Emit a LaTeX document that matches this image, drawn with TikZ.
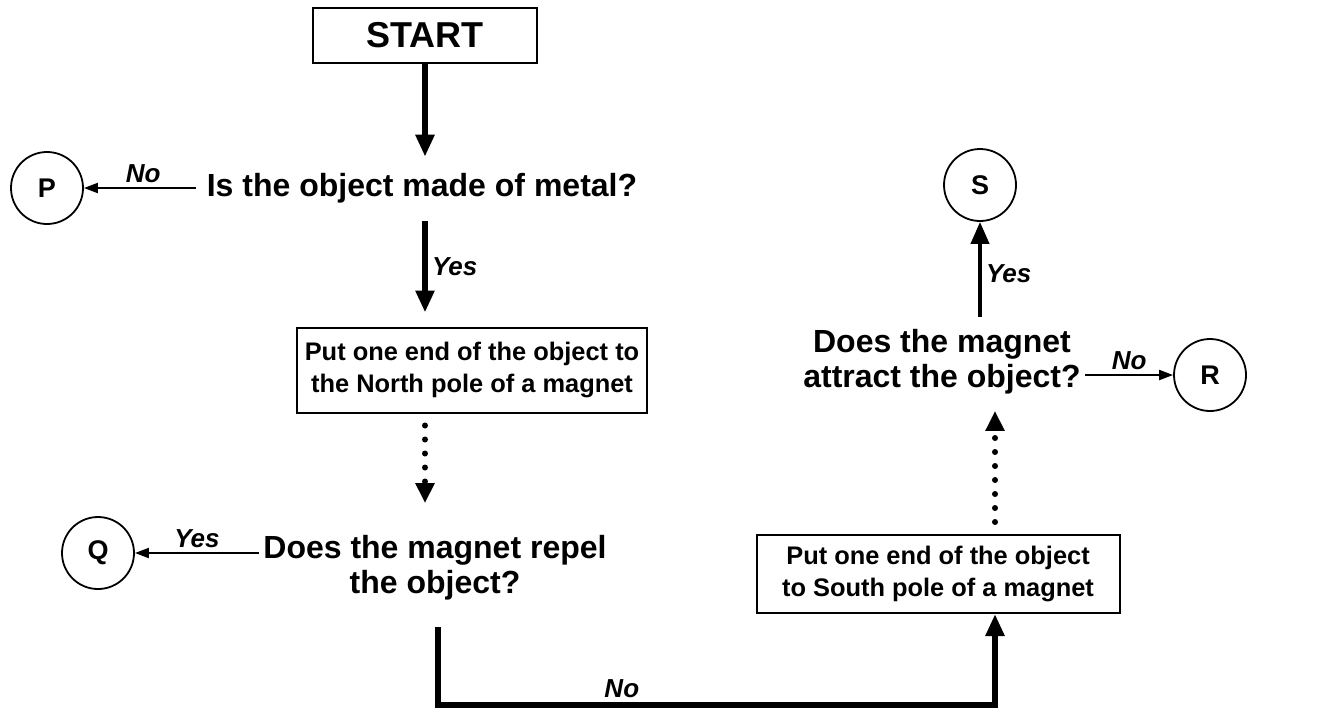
\documentclass[tikz,border=0pt]{standalone}
\usepackage{fontspec}
\setmainfont{Liberation Sans}
\usetikzlibrary{arrows.meta}
\begin{document}
\begin{tikzpicture}[x=0.5pt,y=-0.5pt,
  qtext/.style={font=\fontsize{16}{17.5}\selectfont\bfseries, align=center, inner sep=2pt},
  procbox/.style={draw, line width=1pt, font=\fontsize{12.7}{16}\selectfont\bfseries, align=center, inner sep=0pt},
  endcirc/.style={draw, circle, line width=0.9pt, minimum size=36pt, inner sep=0pt, font=\fontsize{13.5}{13.5}\selectfont\bfseries},
  mainarrow/.style={line width=3pt, -{Triangle[width=9pt,length=11pt]}},
  dotarrow/.style={line width=3pt, line cap=round, dash pattern=on 0pt off 7pt, -{Triangle[width=9pt,length=10pt]}},
  sidearrow/.style={line width=1pt, -{Triangle[width=5pt,length=7pt]}},
  lbl/.style={font=\fontsize{13}{13}\selectfont\bfseries\itshape, inner sep=2pt},
]
\useasboundingbox (0,0) rectangle (1343,719);

\node[draw, line width=1pt, minimum width=112pt, minimum height=27.5pt, font=\fontsize{18}{18}\selectfont\bfseries] (start) at (425,35) {START};
\node[qtext] (q1) at (422,188) {Is the object made of metal?};
\node[endcirc] (p) at (47,188) {P};
\node[procbox, minimum width=175pt, minimum height=42.5pt] (nbox) at (472,370) {Put one end of the object to\\the North pole of a magnet};
\node[qtext] (q2) at (435,568) {Does the magnet repel\\the object?};
\node[endcirc] (q) at (98,553) {Q};
\node[procbox, minimum width=181.5pt, minimum height=39pt] (sbox) at (938,574) {Put one end of the object\\to South pole of a magnet};
\node[qtext] (q3) at (942,362) {Does the magnet\\attract the object?};
\node[endcirc] (s) at (980,185) {S};
\node[endcirc] (r) at (1210,375) {R};
\coordinate (c1) at (438,705);
\coordinate (c2) at (995,705);

\draw[mainarrow, shorten >=6pt] (start.south) -- (start.south |- q1.north);
\draw[sidearrow, shorten <=3pt] (q1.west) -- node[above, lbl] {No} (p.east);
\draw[mainarrow, shorten <=7pt, shorten >=7pt] (start.south |- q1.south) -- node[right, lbl] {Yes} (start.south |- nbox.north);
\draw[dotarrow, shorten <=6pt, shorten >=14pt] (start.south |- nbox.south) -- (start.south |- q2.north);
\draw[sidearrow] (q2.west |- q.east) -- node[above, lbl] {Yes} (q.east);
\draw[mainarrow, shorten <=11pt] (q2.south -| c1) -- (c1) -- node[pos=0.33, above, lbl] {No} (c2) -- (sbox.south -| c2);
\draw[dotarrow, shorten <=6pt, shorten >=6pt] (sbox.north -| c2) -- (q3.south -| c2);
\draw[sidearrow] (q3.east |- r.west) -- node[above, lbl] {No} (r.west);
\draw[mainarrow, line width=2pt, shorten <=4pt] (q3.north -| s.south) -- node[right, lbl] {Yes} (s.south);
\end{tikzpicture}
\end{document}
